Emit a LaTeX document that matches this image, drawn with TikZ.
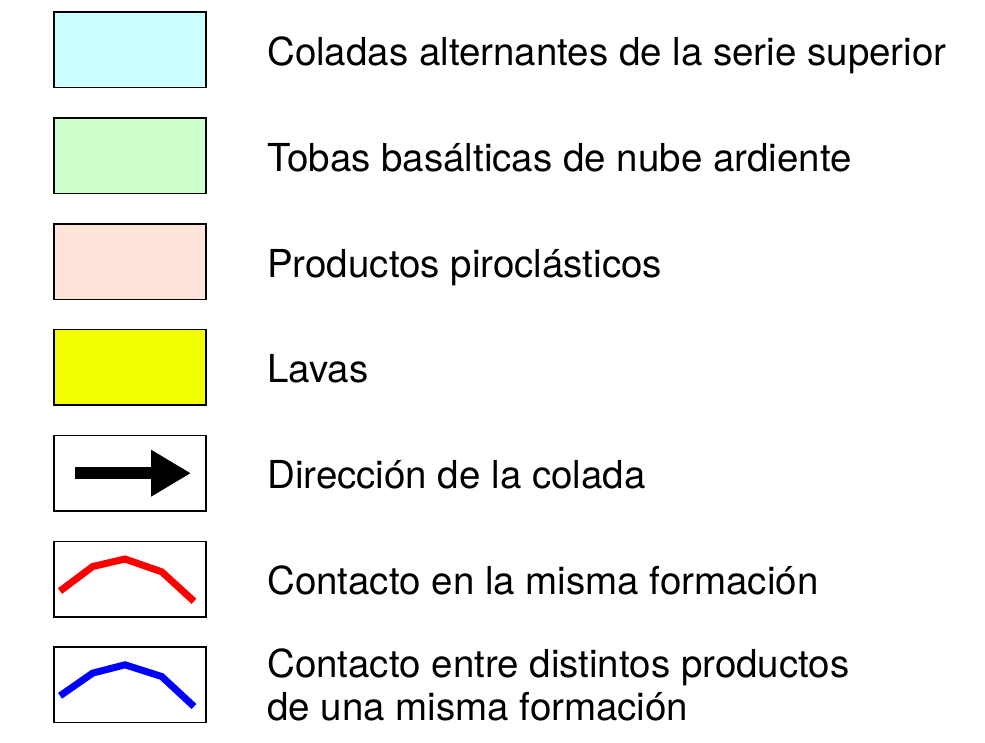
\documentclass[tikz,border=0pt]{standalone}
\usepackage{fontspec}
\setmainfont{TeX Gyre Heros}
\usetikzlibrary{arrows.meta}
\usepackage{xcolor}
\definecolor{superior}{RGB}{204,255,255}
\definecolor{tobas}{RGB}{204,255,204}
\definecolor{piro}{RGB}{255,228,220}
\definecolor{lavas}{RGB}{242,255,0}

\begin{document}
\begin{tikzpicture}[x=1pt,y=-1pt]
			\tikzset{legbox/.style = {shape=rectangle,draw,line width=1.5pt,
					minimum width=152pt,minimum height=75.5pt,inner sep=0pt}}
			\tikzset{legtext/.style = {anchor=base west,inner sep=0pt,align=left,
					font=\fontsize{38.5}{43}\selectfont}}
			\tikzset{flow/.style = {line width=12pt,-{Triangle[length=40pt,width=44pt]}}}
			\tikzset{contact/.style = {line width=7pt,line join=miter}}
			\useasboundingbox (0,0) rectangle (985,743);
			% boxes
			\node[legbox,fill=superior] (a) at (130,50) {};
			\node[legbox,fill=tobas] (b) at (130,155.8) {};
			\node[legbox,fill=piro] (c) at (130,261.6) {};
			\node[legbox,fill=lavas] (d) at (130,367.4) {};
			\node[legbox] (e) at (130,473.2) {};
			\node[legbox] (f) at (130,579) {};
			\node[legbox] (g) at (130,684.8) {};
			
			% texts
			\node[legtext] (ta) at (267,65.5) {Coladas alternantes de la serie superior};
			\node[legtext] (tb) at (267,171.3) {Tobas basálticas de nube ardiente};
			\node[legtext] (tc) at (267,277.1) {Productos piroclásticos};
			\node[legtext] (td) at (267,382.9) {Lavas};
			\node[legtext] (te) at (267,488.7) {Dirección de la colada};
			\node[legtext] (tf) at (267,594.5) {Contacto en la misma formación};
			\node[legtext] (tg) at (267,720) {Contacto entre distintos productos\\de una misma formación};
			
			% symbols
			\coordinate (e1) at (75,473.2);
			\coordinate (e2) at (191,473.2);
			\draw[flow] (e1) to (e2);
			\draw[contact,red] ([shift={(-70,12)}]f.center) -- ++(32.7,-24.5) -- ++(32.3,-7.5)
				-- ++(36.7,12.8) -- ++(32.3,29.5);
			\draw[contact,blue] ([shift={(-70,11)}]g.center) -- ++(32.7,-22.7) -- ++(32.3,-8.3)
				-- ++(36.7,11.7) -- ++(32.3,30);
\end{tikzpicture}
\end{document}
